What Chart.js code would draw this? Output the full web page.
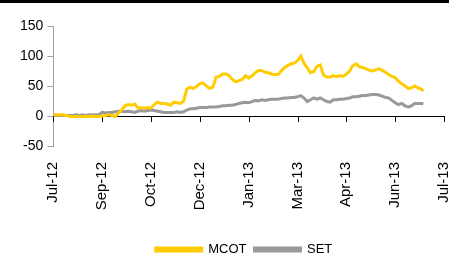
<!DOCTYPE html>
<html><head><meta charset="utf-8">
<script src="https://cdn.jsdelivr.net/npm/chart.js@4"></script>
<style>
html,body{margin:0;padding:0;background:#fff;}
#wrap{position:relative;width:449px;height:256px;}
#bar{position:absolute;left:0;top:0;width:449px;height:3px;background:#000;}
canvas{position:absolute;left:0;top:0;}
</style></head>
<body><div id="wrap"><canvas id="c" width="449" height="256"></canvas><div id="bar"></div></div>
<script>
const tickLabels = ["Jul-12","Sep-12","Oct-12","Dec-12","Jan-13","Mar-13","Apr-13","Jun-13","Jul-13"];
const days = [0,3,6,9,12,15,18,21,24,27,30,33,36,39,42,45,48,51,54,57,60,63,66,69,72,75,78,81,84,87,90,93,96,99,102,105,108,111,114,117,120,123,126,129,132,135,138,141,144,147,150,153,156,159,162,165,168,171,174,177,180,183,186,189,192,195,198,201,204,207,210,213,216,219,222,225,228,231,234,237,240,243,246,249,252,255,258,261,264,267,270,273,276,279,282,285,288,291,294,297,300,303,306,309,312,315,318,321,324,327,330,333,336,339,341];
const mcot = [2,2,2,2,1,-1,-1,-1,-1,-1,-1,-1,0,-1,-1,0,1,2,1,-1,5,10,17,19,18,20,13,14,13,14,13,19,23,21,21,20,18,23,22,21,25,45,48,46,49,54,55,50,46,48,65,66,70,70,67,61,57,59,61,67,63,67,72,76,76,73,72,70,69,69,75,81,84,87,88,92,100,88,80,72,74,83,85,68,65,65,67,66,67,66,70,75,84,87,82,81,79,76,75,77,79,76,73,69,66,64,58,54,50,46,47,50,47,45,42];
const setIdx = [1,1,1,1,1,1,1,2,1,2,1,2,2,2,2,6,5,6,6,7,8,8,7,8,7,6,8,9,8,9,10,9,8,7,6,6,6,6,7,6,7,10,12,12,13,14,14,14,15,15,15,16,17,17,18,18,19,21,22,23,22,24,26,25,27,26,27,28,28,28,29,30,30,31,31,32,34,30,24,27,30,28,30,27,24,23,27,27,28,28,29,30,32,32,33,34,34,35,36,36,35,33,31,30,26,22,19,21,17,15,17,21,21,21,20];

const FONT = "'Liberation Sans',Arial,sans-serif";

const zeroLine = {
  id:'zeroLine',
  beforeDatasetsDraw(chart){
    const {ctx, scales:{x,y}} = chart;
    const y0 = Math.round(y.getPixelForValue(0));
    ctx.save();
    ctx.strokeStyle = '#000';
    ctx.lineWidth = 1;
    ctx.beginPath();
    ctx.moveTo(x.left, y0+0.5);
    ctx.lineTo(x.right+1, y0+0.5);
    x.ticks.forEach(t=>{
      const px = Math.round(x.getPixelForValue(t.value))+0.5;
      ctx.moveTo(px, y0);
      ctx.lineTo(px, y0+6);
    });
    ctx.stroke();
    ctx.restore();
  }
};
const legendShift = {
  id:'legendShift',
  afterLayout(chart){ if(chart.legend){ chart.legend.left += 14; chart.legend.right += 14; } }
};

new Chart(document.getElementById('c'), {
  type:'line',
  data:{
    datasets:[
      {label:'MCOT', data: days.map((d,i)=>({x:d,y:mcot[i]})), borderColor:'#FFCC00', backgroundColor:'#FFCC00', borderWidth:3, pointRadius:0, tension:0},
      {label:'SET', data: days.map((d,i)=>({x:d,y:setIdx[i]})), borderColor:'#999999', backgroundColor:'#999999', borderWidth:3, pointRadius:0, tension:0}
    ]
  },
  options:{
    responsive:false, animation:false,
    layout:{padding:{top:26,right:5,left:16,bottom:-10}},
    plugins:{
      legend:{position:'bottom', labels:{boxWidth:46, boxHeight:3, padding:8, color:'#000', font:{family:FONT,size:13}}},
      tooltip:{enabled:false}
    },
    scales:{
      x:{type:'linear', min:0, max:360,
        afterFit:(s)=>{ s.paddingLeft=0; s.paddingRight=0; s.height=89; },
        ticks:{stepSize:45, autoSkip:false, minRotation:90, maxRotation:90, color:'#000', padding:16, font:{family:FONT,size:15},
          callback:(v)=>tickLabels[Math.round(v/45)]},
        grid:{display:false, drawTicks:false}, border:{display:false}},
      y:{min:-50, max:150,
        ticks:{stepSize:50, color:'#000', padding:4, font:{family:FONT,size:14}},
        grid:{drawOnChartArea:false, tickLength:6, color:'#a0a0a0'}, border:{display:true, color:'#a0a0a0'}}
    }
  },
  plugins:[zeroLine, legendShift]
});
</script></body></html>
